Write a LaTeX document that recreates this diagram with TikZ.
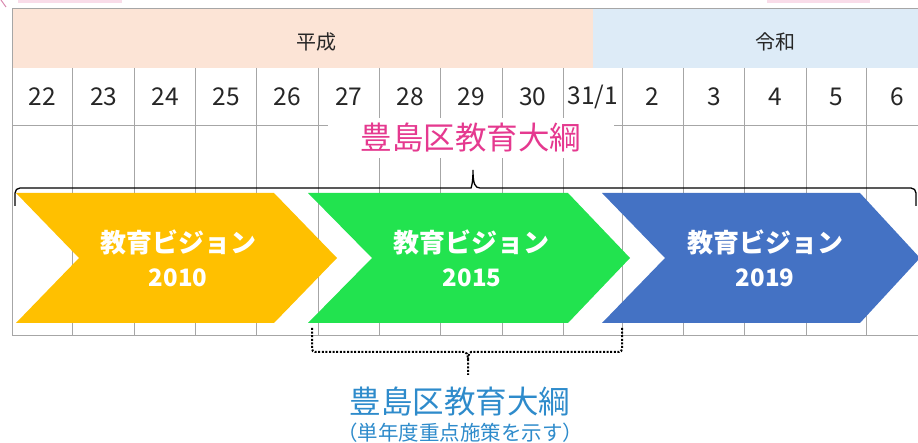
\documentclass[tikz,border=0pt]{standalone}
\usepackage{fontspec}
\setmainfont{Noto Sans CJK JP}
\definecolor{peach}{HTML}{FCE4D6}
\definecolor{reiwa}{HTML}{DDEBF7}
\definecolor{gridgray}{HTML}{A6A6A6}
\definecolor{yel}{HTML}{FFC000}
\definecolor{grn}{HTML}{22E34F}
\definecolor{blu}{HTML}{4472C4}
\definecolor{titlepink}{HTML}{E5398F}
\definecolor{titleblue}{HTML}{2E8BCB}
\definecolor{pinkfaint}{HTML}{F9DCE9}
\definecolor{pinkline}{HTML}{D98BB0}
\begin{document}
\begin{tikzpicture}[x=1pt,y=-1pt,
  gridline/.style={draw=gridgray,line width=0.8pt},
  era/.style={font=\fontsize{20}{22}\selectfont,text=black!85},
  yearlbl/.style={font=\fontsize{24.5}{26}\selectfont,text=black!85},
  vistext/.style={font=\bfseries\fontsize{26}{28}\selectfont,text=white},
  visyear/.style={font=\bfseries\fontsize{24}{28}\selectfont,text=white},
  bracestyle/.style={draw=black,line width=1.3pt},
  dotbrace/.style={draw=black,line width=2pt,dash pattern=on 2pt off 1.6pt},
  bigtitle/.style={font=\fontsize{31.5}{34}\selectfont}
]
\useasboundingbox (0,0) rectangle (918,443);
% faint artifacts at the top edge
\fill[pinkfaint] (18,0) rectangle (122,3);
\fill[pinkfaint] (767,0) rectangle (870,3);
\draw[pinkline,line width=1pt] (1,0) -- (6,7);
% header
\fill[peach] (12,8) rectangle (592.5,68);
\fill[reiwa] (592.5,8) rectangle (918,68);
\node[era] (heisei) at (316,42) {平成};
\node[era] (reiwalbl) at (775,42) {令和};
% grid
\draw[gridline] (918,8) -- (12,8) -- (12,335) -- (918,335);
\draw[gridline] (12,125) -- (918,125);
\foreach \x in {72.7,134.7,195.7,256.7,318,379.3,440.7,502,563.3,622,683.3,744.7,806,866.7}
  \draw[gridline] (\x,68) -- (\x,335);
% year labels
\foreach \c/\t [count=\i] in {42.3/22,103.7/23,165.2/24,226.2/25,287.3/26,348.6/27,410/28,471.3/29,532.6/30,592.6/{31/1},652.6/2,714/3,775.3/4,836.3/5,897/6}
  \node[yearlbl] (y\i) at (\c,97) {\t};
% title top
\node[bigtitle,text=titlepink,fill=white,minimum width=286pt,minimum height=40pt,inner sep=0pt] (toptitle) at (471,138) {豊島区教育大綱};
% top brace
\draw[bracestyle] (15,206) [rounded corners=5pt] -- (15,188) -- (466,188) [sharp corners]
  .. controls (471,188) and (473,184) .. (473,170)
  .. controls (473,184) and (475,188) .. (480,188) [rounded corners=5pt] -- (916,188) -- (916,206);
% chevrons
\fill[yel] (16,193) -- (274,193) -- (337,258) -- (274,323) -- (16,323) -- (79,258) -- cycle;
\fill[grn] (308,193) -- (568,193) -- (630,258) -- (568,323) -- (308,323) -- (372,258) -- cycle;
\fill[blu] (602,193) -- (860,193) -- (920,258) -- (860,323) -- (602,323) -- (665,258) -- cycle;
\node[vistext] (v1) at (178,242) {教育ビジョン};
\node[visyear] (n1) at (178,278) {2010};
\node[vistext] (v2) at (471,242) {教育ビジョン};
\node[visyear] (n2) at (472,278) {2015};
\node[vistext] (v3) at (765,242) {教育ビジョン};
\node[visyear] (n3) at (765,278) {2019};
% bottom dotted brace
\coordinate (bl) at (312,328);
\coordinate (br) at (622,328);
\coordinate (bt) at (468,375);
\draw[dotbrace] (bl) [rounded corners=3pt] -- (312,352) -- (462,352) [sharp corners]
  .. controls (466,352) and (468,354) .. (468,360) -- (bt);
\draw[dotbrace] (br) [rounded corners=3pt] -- (622,352) -- (474,352) [sharp corners]
  .. controls (470,352) and (468,354) .. (468,360);
% bottom title
\node[bigtitle,text=titleblue] (bottitle) at (460,402) {豊島区教育大綱};
\node[font=\fontsize{20.5}{22}\selectfont,text=titleblue] (subtitle) at (460,433) {（単年度重点施策を示す）};
\end{tikzpicture}
\end{document}
